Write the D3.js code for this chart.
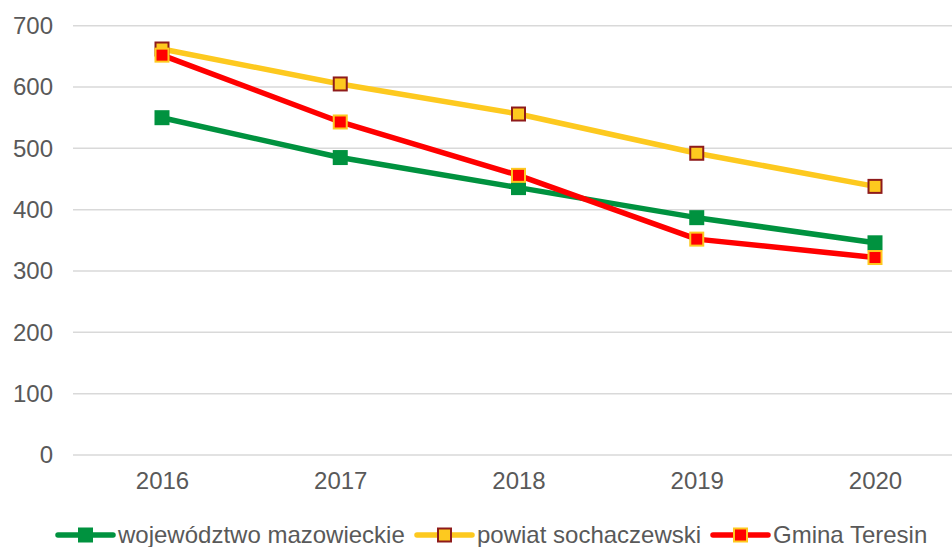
<!DOCTYPE html>
<html>
<head>
<meta charset="utf-8">
<script src="https://cdn.jsdelivr.net/npm/d3@7"></script>
<style>
  html, body { margin: 0; padding: 0; background: #fff; }
  svg { display: block; }
  text { font-family: "Liberation Sans", Arial, sans-serif; fill: #595959; }
</style>
</head>
<body>
<svg id="chart" width="952" height="547"></svg>
<script>
// Years on the category axis
const years = ["2016", "2017", "2018", "2019", "2020"];
// Series values
const mazowieckie = [550, 485, 436, 387, 346];
const sochaczewski = [662, 605, 556, 492, 438];
const teresin = [652, 543, 456, 352, 322];
// Value-axis ticks
const yTicks = [0, 100, 200, 300, 400, 500, 600, 700];

const series = [
  { name: "województwo mazowieckie", values: mazowieckie, line: "#00923F", fill: "#00923F", stroke: "#00923F" },
  { name: "powiat sochaczewski", values: sochaczewski, line: "#FDC91F", fill: "#FDC91F", stroke: "#8E1B1B" },
  { name: "Gmina Teresin", values: teresin, line: "#FF0000", fill: "#FF0000", stroke: "#FDC91F" }
];

const svg = d3.select("#chart");
const plotLeft = 73, plotRight = 952;
const fontSize = 24;

const x = d3.scalePoint().domain(years).range([162, 875]);
const y = d3.scaleLinear().domain([0, 700]).range([455, 25.7]);

// Horizontal gridlines
svg.append("g").selectAll("line")
  .data(yTicks)
  .join("line")
  .attr("x1", plotLeft).attr("x2", plotRight)
  .attr("y1", d => y(d)).attr("y2", d => y(d))
  .attr("stroke", "#d9d9d9").attr("stroke-width", 1.5);

// Value axis labels
const yAxis = d3.axisLeft(y).tickValues(yTicks).tickSize(0).tickPadding(0);
const gy = svg.append("g").attr("transform", "translate(53,0)").call(yAxis);
gy.select(".domain").remove();
gy.selectAll("text")
  .attr("font-size", fontSize)
  .attr("font-family", "Liberation Sans, Arial, sans-serif")
  .attr("fill", "#595959");

// Category axis labels
const xAxis = d3.axisBottom(x).tickSize(0).tickPadding(0);
const gx = svg.append("g").attr("transform", "translate(0,472)").call(xAxis);
gx.select(".domain").remove();
gx.selectAll("text")
  .attr("font-size", fontSize)
  .attr("font-family", "Liberation Sans, Arial, sans-serif")
  .attr("fill", "#595959");

// Lines
const line = d3.line().x((d, i) => x(years[i])).y(d => y(d));
series.forEach(s => {
  svg.append("path")
    .datum(s.values)
    .attr("d", line)
    .attr("fill", "none")
    .attr("stroke", s.line)
    .attr("stroke-width", 5.5)
    .attr("stroke-linejoin", "round")
    .attr("stroke-linecap", "round");
});

// Square markers
const m = 13;
series.forEach(s => {
  svg.append("g").selectAll("rect")
    .data(s.values)
    .join("rect")
    .attr("x", (d, i) => x(years[i]) - m / 2)
    .attr("y", d => y(d) - m / 2)
    .attr("width", m).attr("height", m)
    .attr("fill", s.fill)
    .attr("stroke", s.stroke)
    .attr("stroke-width", 2);
});

// Legend
const legendY = 535;
const legendX = [58, 417, 713];
series.forEach((s, i) => {
  const g = svg.append("g").attr("transform", `translate(${legendX[i]},${legendY})`);
  g.append("line")
    .attr("x1", 0).attr("x2", 55).attr("y1", 0).attr("y2", 0)
    .attr("stroke", s.line).attr("stroke-width", 5.5).attr("stroke-linecap", "round");
  g.append("rect")
    .attr("x", 27.5 - m / 2).attr("y", -m / 2)
    .attr("width", m).attr("height", m)
    .attr("fill", s.fill).attr("stroke", s.stroke).attr("stroke-width", 2);
  g.append("text")
    .attr("x", 60).attr("y", 8)
    .attr("font-size", fontSize)
    .text(s.name);
});
</script>
</body>
</html>
